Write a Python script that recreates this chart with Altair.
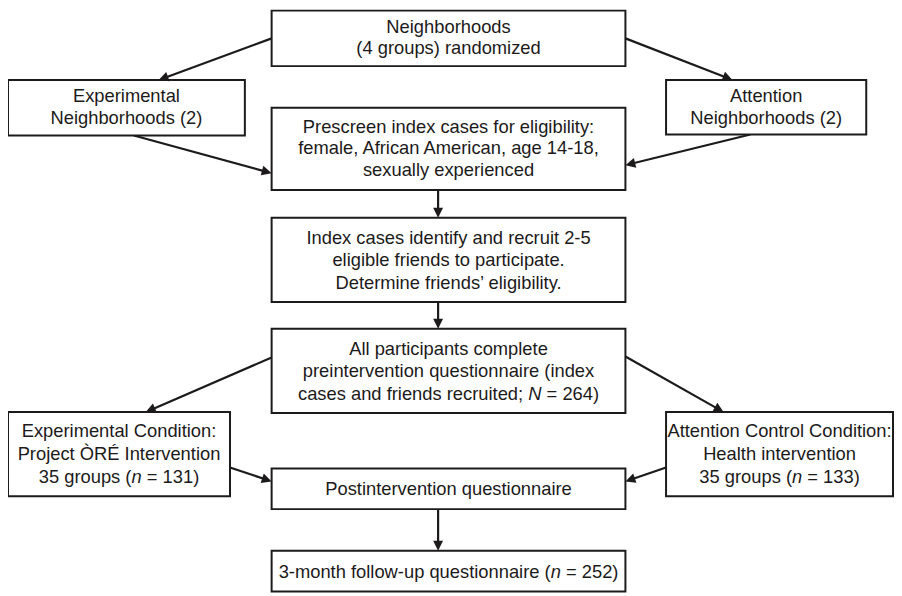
import math
import altair as alt
import pandas as pd

# ---------------- diagram data (coordinates of the 902x596 figure, y downward) ----------------
box_id = ["top", "exp_nb", "att_nb", "prescreen", "index", "all",
          "exp_cond", "att_cond", "post", "followup"]
box_x0 = [274, 8, 672, 274, 274, 274, 8, 672, 274, 274]
box_x1 = [631, 247, 874, 631, 631, 631, 232, 901, 631, 631]
box_y0 = [8, 78, 78, 106, 217, 329, 413, 413, 470, 553]
box_y1 = [64, 134, 133, 189, 302, 414, 498, 498, 511, 594]

# text lines: box, text (italic letter between *...*), baseline
line_box = ["top", "top",
            "exp_nb", "exp_nb",
            "att_nb", "att_nb",
            "prescreen", "prescreen", "prescreen",
            "index", "index", "index",
            "all", "all", "all",
            "exp_cond", "exp_cond", "exp_cond",
            "att_cond", "att_cond", "att_cond",
            "post",
            "followup"]
line_text = ["Neighborhoods", "(4 groups) randomized",
             "Experimental", "Neighborhoods (2)",
             "Attention", "Neighborhoods (2)",
             "Prescreen index cases for eligibility:",
             "female, African American, age 14-18,",
             "sexually experienced",
             "Index cases identify and recruit 2-5",
             "eligible friends to participate.",
             "Determine friends\u2019 eligibility.",
             "All participants complete",
             "preintervention questionnaire (index",
             "cases and friends recruited; *N* = 264)",
             "Experimental Condition:",
             "Project \u00d2R\u00c9 Intervention",
             "35 groups (*n* = 131)",
             "Attention Control Condition:",
             "Health intervention",
             "35 groups (*n* = 133)",
             "Postintervention questionnaire",
             "3-month follow-up questionnaire (*n* = 252)"]
line_base = [31, 52,
             100.5, 122.5,
             100.5, 122.5,
             131.5, 153, 174.5,
             243.5, 266, 288.5,
             355, 378, 401,
             438.5, 461.5, 484.5,
             438.5, 461.5, 484.5,
             497,
             580]

# arrows: start -> tip
arrow_x0 = [274, 631, 135, 757, 442, 442, 274, 631, 232, 672, 442]
arrow_y0 = [36, 36, 134, 133, 189, 302, 358, 357, 469, 469, 511]
arrow_x1 = [160, 739, 274, 631, 442, 442, 147, 730, 274, 631, 442]
arrow_y1 = [78, 78, 172, 164, 217, 329, 413, 413, 483, 483, 553]

# ---------------- build tables ----------------
W, H = 902, 596
XD = [0, 902]
YD = [0, 596]
FS = 18.5
FONT = "Liberation Sans"
INK = "#1c1a1a"

ARIAL = {' ': 278, '(': 333, ')': 333, ';': 278, '=': 584, '-': 333, ':': 278,
         ',': 278, '.': 278, 'a': 556, 'c': 500, 'd': 556, 'e': 556, 'f': 278,
         'g': 556, 'h': 556, 'i': 222, 'l': 222, 'm': 833, 'n': 556, 'o': 556,
         'p': 556, 'q': 556, 'r': 333, 's': 500, 't': 278, 'u': 556, 'w': 722,
         'N': 722}


def width_px(s):
    return sum(ARIAL.get(ch, 556) for ch in s) * FS / 1000.0


boxes = pd.DataFrame({"id": box_id, "x0": box_x0, "x1": box_x1,
                      "y0": box_y0, "y1": box_y1})
centers = {b: (x0 + x1) / 2 for b, x0, x1 in zip(box_id, box_x0, box_x1)}

plain, pre, ital, suf = [], [], [], []
for b, t, yb in zip(line_box, line_text, line_base):
    c = centers[b]
    parts = t.split("*")
    if len(parts) == 1:
        plain.append({"x": c, "y": yb, "t": t})
    else:
        p, n, s = parts
        wp, wn, ws = width_px(p), width_px(n), width_px(s)
        ic = c + (wp - ws) / 2
        gap_l = width_px(p) - width_px(p.rstrip())
        gap_r = width_px(s) - width_px(s.lstrip())
        pre.append({"x": ic - wn / 2 - gap_l, "y": yb, "t": p.rstrip()})
        ital.append({"x": ic, "y": yb, "t": n})
        suf.append({"x": ic + wn / 2 + gap_r, "y": yb, "t": s.lstrip()})

rows, heads = [], []
for x0, y0, x1, y1 in zip(arrow_x0, arrow_y0, arrow_x1, arrow_y1):
    dx, dy = x1 - x0, y1 - y0
    L = math.hypot(dx, dy)
    ux, uy = dx / L, dy / L
    rows.append({"x": x0, "y": y0, "x2": x1 - ux * 6, "y2": y1 - uy * 6})
    ang = (math.degrees(math.atan2(dx, -dy)) + 360) % 360
    heads.append({"x": x1, "y": y1, "a": ang})

plain_df = pd.DataFrame(plain)
pre_df = pd.DataFrame(pre)
ital_df = pd.DataFrame(ital)
suf_df = pd.DataFrame(suf)
arrows_df = pd.DataFrame(rows)
heads_df = pd.DataFrame(heads)

X = alt.Scale(domain=XD, nice=False, zero=False)
Y = alt.Scale(domain=YD, nice=False, zero=False, reverse=True)


def xe(f="x"):
    return alt.X(f + ":Q", scale=X, axis=None)


def ye(f="y"):
    return alt.Y(f + ":Q", scale=Y, axis=None)


lines = alt.Chart(arrows_df).mark_rule(color=INK, strokeWidth=2.2).encode(
    x=xe("x"), y=ye("y"), x2="x2:Q", y2="y2:Q")

rects = alt.Chart(boxes).mark_rect(fill="white", stroke=INK, strokeWidth=2).encode(
    x=xe("x0"), x2="x1:Q", y=ye("y0"), y2="y1:Q")

arrowheads = alt.Chart(heads_df).mark_point(
    shape="M0,0L-0.5,1L0.5,1Z", filled=True, size=400, color=INK, opacity=1
).encode(x=xe("x"), y=ye("y"), angle=alt.Angle("a:Q", scale=None))

txt = dict(font=FONT, fontSize=FS, color=INK, baseline="alphabetic")
t_plain = alt.Chart(plain_df).mark_text(align="center", **txt).encode(
    x=xe(), y=ye(), text="t:N")
t_pre = alt.Chart(pre_df).mark_text(align="right", **txt).encode(
    x=xe(), y=ye(), text="t:N")
t_ital = alt.Chart(ital_df).mark_text(align="center", fontStyle="italic", **txt).encode(
    x=xe(), y=ye(), text="t:N")
t_suf = alt.Chart(suf_df).mark_text(align="left", **txt).encode(
    x=xe(), y=ye(), text="t:N")

chart = alt.layer(lines, rects, arrowheads, t_plain, t_pre, t_ital, t_suf).properties(
    width=W, height=H,
    padding={"left": -8, "top": -8, "right": 0, "bottom": 0},
    autosize=alt.AutoSizeParams(type="none")
).configure_view(strokeWidth=0)

chart.save("out.html", embed_options={"renderer": "svg", "actions": False})
